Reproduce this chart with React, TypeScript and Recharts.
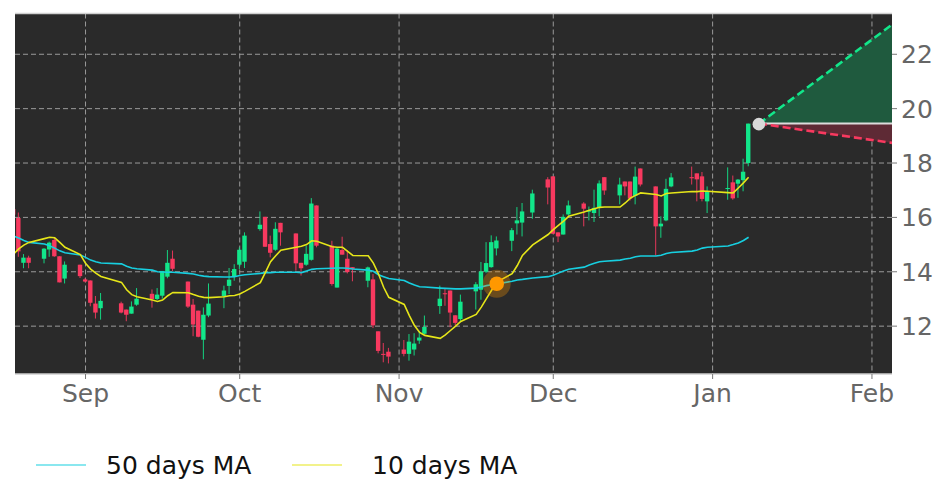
import { ComposedChart, Bar, Line, Area, XAxis, YAxis, CartesianGrid, ReferenceDot, ReferenceLine, Legend } from "recharts";

// x values are calendar days counted from 1 Sep
const tradingDays = [-14, -13, -12, -11, -8, -7, -6, -5, -4, -1, 0, 1, 2, 3, 7, 8, 9, 10, 13, 14, 15, 16, 17, 20, 21, 22, 23, 24, 27, 28, 29, 30, 31, 34, 35, 36, 37, 38, 41, 42, 43, 44, 45, 48, 49, 50, 51, 52, 55, 56, 57, 58, 59, 62, 63, 64, 65, 66, 69, 70, 71, 72, 73, 76, 77, 78, 79, 80, 83, 84, 85, 87, 90, 91, 92, 93, 94, 97, 98, 99, 100, 101, 104, 105, 106, 107, 108, 111, 112, 113, 114, 118, 119, 120, 121, 125, 126, 127, 128, 129];
const opens = [16.31, 15.98, 14.33, 14.52, 14.48, 14.82, 15.17, 14.57, 13.75, 14.26, 13.72, 13.68, 12.83, 12.66, 12.84, 12.61, 12.46, 12.79, 13.19, 13.0, 13.12, 13.82, 14.48, 13.64, 12.79, 12.57, 11.5, 12.39, 13.11, 13.48, 13.82, 14.26, 14.37, 15.57, 16.02, 15.02, 14.81, 15.8, 15.41, 14.33, 14.26, 14.44, 16.44, 14.96, 13.42, 14.8, 14.48, 14.17, 13.67, 13.72, 11.81, 10.98, 11.06, 11.14, 10.98, 11.14, 11.47, 11.72, 12.74, 13.21, 13.31, 12.4, 12.26, 13.28, 13.34, 14.0, 14.17, 14.86, 15.14, 15.78, 15.81, 16.18, 17.4, 17.51, 15.45, 15.37, 16.11, 16.51, 16.21, 16.16, 16.35, 17.48, 16.81, 17.32, 17.32, 16.79, 17.8, 17.14, 15.67, 15.89, 17.14, 17.48, 17.62, 17.51, 16.59, 17.05, 17.29, 17.24, 17.37, 18.0];
const highs = [16.37, 16.18, 14.65, 14.59, 14.87, 15.11, 15.27, 14.57, 14.38, 14.26, 13.77, 13.68, 13.11, 13.22, 12.9, 12.61, 12.91, 13.4, 13.35, 13.4, 14.03, 14.8, 14.78, 13.64, 13.0, 12.57, 12.69, 13.57, 13.49, 14.14, 14.28, 14.9, 15.45, 16.22, 16.02, 15.33, 15.82, 15.8, 15.41, 14.33, 14.96, 16.71, 16.44, 15.14, 14.9, 15.29, 14.8, 14.17, 14.19, 13.92, 11.81, 11.38, 11.2, 11.49, 11.71, 11.74, 11.83, 12.39, 13.49, 13.37, 13.31, 12.4, 13.16, 13.62, 14.36, 15.09, 15.34, 15.3, 15.61, 16.38, 16.53, 17.02, 17.48, 17.51, 15.45, 16.11, 16.62, 16.56, 16.4, 17.02, 17.36, 17.48, 17.46, 17.32, 17.32, 17.87, 17.8, 17.14, 16.04, 17.42, 17.63, 17.87, 17.62, 17.67, 17.14, 17.84, 17.54, 17.41, 18.16, 19.45];
const lows = [16.0, 14.55, 14.13, 14.13, 14.31, 14.55, 14.55, 13.61, 13.57, 13.77, 13.61, 12.73, 12.28, 12.24, 12.47, 12.18, 12.46, 12.75, 12.68, 12.96, 13.01, 13.76, 14.02, 12.67, 11.63, 11.59, 10.78, 12.33, 12.66, 13.18, 13.67, 14.1, 14.14, 15.51, 14.92, 14.53, 14.77, 14.96, 14.04, 13.86, 14.22, 14.41, 14.9, 13.49, 13.42, 14.63, 13.94, 13.65, 13.43, 11.93, 11.0, 10.67, 10.63, 10.89, 10.73, 10.92, 11.35, 11.69, 12.45, 12.75, 11.96, 12.02, 12.14, 12.61, 12.97, 13.95, 14.15, 14.6, 14.76, 15.37, 15.3, 15.95, 16.48, 15.4, 15.09, 15.37, 16.06, 15.67, 15.89, 15.83, 16.04, 16.83, 16.48, 16.81, 16.62, 16.48, 17.14, 14.6, 15.25, 15.86, 17.11, 17.21, 16.59, 16.59, 16.16, 16.65, 16.65, 16.72, 16.96, 17.88];
const closes = [16.1, 14.75, 14.52, 14.33, 14.85, 15.07, 14.57, 13.61, 14.26, 13.84, 13.64, 12.86, 12.5, 12.93, 12.5, 12.42, 12.72, 13.01, 13.0, 13.16, 14.03, 14.33, 14.11, 12.72, 12.06, 11.61, 12.42, 12.83, 13.31, 13.71, 14.1, 14.81, 15.33, 15.73, 14.92, 14.7, 15.58, 15.45, 14.31, 14.13, 14.66, 16.51, 14.96, 13.55, 14.85, 14.63, 13.99, 14.09, 14.16, 12.03, 11.09, 10.95, 10.88, 10.98, 11.43, 11.36, 11.58, 11.97, 13.01, 13.18, 12.5, 12.12, 12.9, 13.54, 14.01, 14.32, 15.09, 15.15, 15.53, 15.89, 16.22, 16.88, 17.1, 15.4, 15.3, 16.02, 16.44, 16.32, 16.26, 16.35, 17.25, 16.99, 17.21, 17.14, 16.69, 17.5, 17.21, 15.67, 15.77, 17.05, 17.47, 17.44, 17.4, 16.68, 16.96, 17.08, 16.7, 17.39, 17.68, 19.45];
const ma50 = [15.31, 15.24, 15.15, 15.08, 15.02, 14.96, 14.87, 14.77, 14.7, 14.62, 14.53, 14.43, 14.37, 14.32, 14.29, 14.2, 14.14, 14.11, 14.06, 14.0, 13.99, 13.98, 13.98, 13.94, 13.92, 13.87, 13.84, 13.82, 13.81, 13.81, 13.82, 13.86, 13.89, 13.94, 13.97, 13.97, 13.98, 13.98, 13.98, 13.97, 14.03, 14.09, 14.11, 14.13, 14.14, 14.14, 14.13, 14.1, 14.06, 14.02, 13.89, 13.82, 13.75, 13.68, 13.59, 13.51, 13.45, 13.44, 13.4, 13.39, 13.38, 13.37, 13.37, 13.4, 13.44, 13.49, 13.52, 13.55, 13.65, 13.7, 13.72, 13.77, 13.82, 13.87, 13.95, 14.03, 14.09, 14.17, 14.25, 14.31, 14.37, 14.39, 14.43, 14.47, 14.5, 14.55, 14.58, 14.58, 14.61, 14.67, 14.71, 14.76, 14.8, 14.87, 14.9, 14.95, 15.0, 15.06, 15.15, 15.27];
const ma10 = [14.65, 14.84, 14.98, 15.08, 15.22, 15.27, 15.25, 15.08, 14.9, 14.63, 14.31, 14.1, 13.95, 13.83, 13.61, 13.34, 13.16, 13.08, 12.96, 12.91, 12.96, 13.12, 13.24, 13.23, 13.16, 13.1, 13.06, 13.05, 13.08, 13.12, 13.13, 13.18, 13.28, 13.6, 13.98, 14.37, 14.59, 14.79, 14.9, 14.94, 15.0, 15.14, 15.12, 14.92, 14.9, 14.9, 14.75, 14.6, 14.59, 14.32, 13.92, 13.43, 13.06, 12.8, 12.39, 12.02, 11.77, 11.66, 11.55, 11.68, 11.84, 12.0, 12.17, 12.43, 12.7, 13.01, 13.32, 13.62, 13.93, 14.23, 14.6, 14.99, 15.37, 15.55, 15.71, 15.86, 16.04, 16.2, 16.26, 16.32, 16.37, 16.38, 16.38, 16.53, 16.71, 16.81, 16.9, 16.84, 16.79, 16.88, 16.9, 16.95, 16.95, 16.97, 16.96, 16.91, 16.9, 17.08, 17.27, 17.48];

const forecastDays = [131, 156.9];
const forecastBase = [19.45, 19.45];
const forecastUp = [19.45, 23.09];
const forecastDown = [19.45, 18.74];

const signalDay = 80;
const signalValue = 13.56;
const lastDay = 131;
const lastValue = 19.43;

const xTicks = [0, 30, 61, 91, 122, 153];
const xLabels = ["Sep", "Oct", "Nov", "Dec", "Jan", "Feb"];
const yTicks = [12, 14, 16, 18, 20, 22];

const X_DOMAIN = [-13.72, 156.9];
const Y_DOMAIN = [10.24, 23.5];

const GREEN = "#12e68a";
const RED = "#f8395f";
const MA50_COLOR = "#17cfe0";
const MA10_COLOR = "#e6e619";
const FONT = "'DejaVu Sans', sans-serif";

const candleRows = tradingDays.map((day, i) => ({
  day,
  open: opens[i],
  high: highs[i],
  low: lows[i],
  close: closes[i],
  range: [lows[i], highs[i]],
  ma50: ma50[i],
  ma10: ma10[i],
}));

const forecastRows = forecastDays.map((day, i) => ({
  day,
  base: forecastBase[i],
  up: forecastUp[i],
  down: forecastDown[i],
  upBand: [forecastBase[i], forecastUp[i]],
  downBand: [forecastDown[i], forecastBase[i]],
}));

const chartData = [...candleRows, ...forecastRows];

// the bar spans low..high, the body is placed inside it by the same pixels per unit
function Candle(props: any) {
  const { x, y, width, height, payload } = props;
  if (!payload || !payload.range) return null;
  const perUnit = height / (payload.high - payload.low);
  const top = y + (payload.high - Math.max(payload.open, payload.close)) * perUnit;
  const bodyHeight = Math.abs(payload.open - payload.close) * perUnit;
  const color = payload.close >= payload.open ? GREEN : RED;
  return (
    <g>
      <line x1={x + width / 2} x2={x + width / 2} y1={y} y2={y + height} stroke={color} strokeWidth={0.9} />
      <rect x={x} y={top} width={width} height={Math.max(bodyHeight, 1)} fill={color} />
    </g>
  );
}

function LegendRow() {
  const items = [
    { label: "50 days MA", color: MA50_COLOR, lineX: 36, textX: 106 },
    { label: "10 days MA", color: MA10_COLOR, lineX: 292, textX: 372 },
  ];
  return (
    <svg width={943} height={50} style={{ display: "block" }}>
      {items.map((it) => (
        <g key={it.label}>
          <line x1={it.lineX} x2={it.lineX + 50} y1={24} y2={24} stroke={it.color} strokeWidth={1.2} />
          <text x={it.textX} y={33} fontFamily={FONT} fontSize={25} fill="#111">{it.label}</text>
        </g>
      ))}
    </svg>
  );
}

export default function App() {
  return (
    <div style={{ position: "absolute", left: 0, top: 0, width: 943, height: 498, background: "#fff" }}>
      <ComposedChart width={943} height={498} data={chartData} margin={{ top: 13.5, right: 0, bottom: 0, left: 15 }} barSize={4.4}>
        <CartesianGrid fill="#2a2a2a" stroke="#9a9a9a" strokeDasharray="5 3" verticalValues={xTicks} horizontalValues={yTicks} />
        <XAxis
          dataKey="day"
          type="number"
          domain={X_DOMAIN}
          allowDataOverflow
          ticks={xTicks}
          tickFormatter={(v: number) => xLabels[xTicks.indexOf(v)]}
          height={124}
          interval={0}
          axisLine={{ stroke: "#cfcfcf", strokeWidth: 1.5 }}
          tickLine={{ stroke: "#777" }}
          tickSize={5}
          tick={{ fill: "#666", fontSize: 25, fontFamily: FONT }}
          tickMargin={5}
        />
        <YAxis
          orientation="right"
          domain={Y_DOMAIN}
          allowDataOverflow
          ticks={yTicks}
          width={51}
          interval={0}
          axisLine={false}
          tickLine={{ stroke: "#777" }}
          tickSize={5}
          tick={{ fill: "#666", fontSize: 25, fontFamily: FONT }}
          tickMargin={4}
        />
        <ReferenceLine y={Y_DOMAIN[1]} stroke="#cfcfcf" strokeWidth={1.5} />
        <Legend verticalAlign="middle" wrapperStyle={{ left: 0, top: 441, width: 943 }} content={() => <LegendRow />} />
        <Area dataKey="upBand" type="linear" stroke="none" fill="#1f5a3e" fillOpacity={1} isAnimationActive={false} connectNulls />
        <Area dataKey="downBand" type="linear" stroke="none" fill="#5e2a35" fillOpacity={1} isAnimationActive={false} connectNulls />
        <Bar dataKey="range" shape={Candle} isAnimationActive={false} />
        <Line dataKey="ma50" stroke={MA50_COLOR} strokeWidth={1.6} dot={false} isAnimationActive={false} />
        <Line dataKey="ma10" stroke={MA10_COLOR} strokeWidth={1.6} dot={false} isAnimationActive={false} />
        <Line dataKey="base" stroke="#dcdcdc" strokeWidth={2} dot={false} isAnimationActive={false} connectNulls />
        <Line dataKey="up" stroke={GREEN} strokeWidth={2.6} strokeDasharray="8 4" dot={false} isAnimationActive={false} connectNulls />
        <Line dataKey="down" stroke={RED} strokeWidth={2.6} strokeDasharray="8 4" dot={false} isAnimationActive={false} connectNulls />
        <ReferenceDot x={signalDay} y={signalValue} r={14} fill="#ff9800" fillOpacity={0.3} stroke="none" />
        <ReferenceDot x={signalDay} y={signalValue} r={7.3} fill="#ff9800" stroke="none" />
        <ReferenceDot x={lastDay} y={lastValue} r={6.3} fill="#d9d9d9" stroke="none" />
      </ComposedChart>
    </div>
  );
}
